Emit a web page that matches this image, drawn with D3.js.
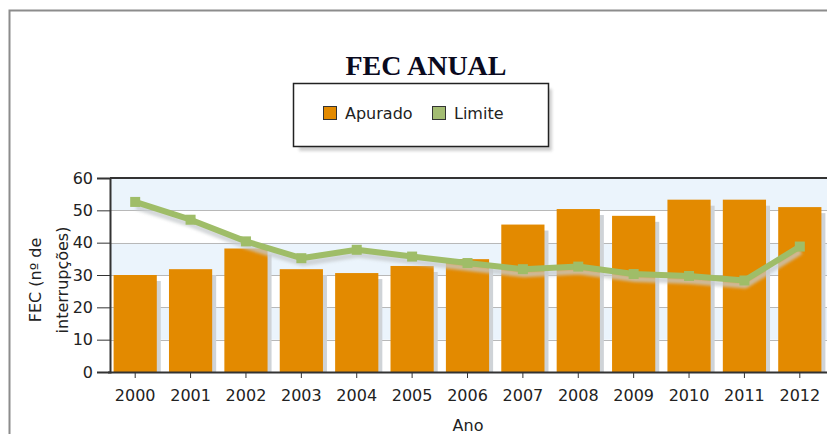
<!DOCTYPE html>
<html lang="pt">
<head>
  <meta charset="UTF-8">
  <title>FEC ANUAL</title>
  <script src="https://d3js.org/d3.v7.min.js"></script>
  <style>
    body { margin: 0; background: #fff; overflow: hidden; }
    svg { display: block; }
    .tick text { font-family: "DejaVu Sans", sans-serif; font-size: 16px; fill: #222; }
    .lbl { font-family: "DejaVu Sans", sans-serif; font-size: 16px; fill: #222; }
  </style>
</head>
<body>
  <svg id="chart" width="827" height="434"></svg>
  <script>
    // valores
    const anos = ["2000", "2001", "2002", "2003", "2004", "2005", "2006",
                  "2007", "2008", "2009", "2010", "2011", "2012"];
    const apurado = [30.0, 31.8, 38.2, 31.8, 30.6, 32.8, 34.9, 45.6, 50.4, 48.3, 53.3, 53.3, 51.0];
    const limite = [52.6, 47.1, 40.4, 35.2, 37.8, 35.7, 33.7, 31.8, 32.6, 30.3, 29.7, 28.3, 38.8];
    const yTicks = [0, 10, 20, 30, 40, 50, 60];

    const svg = d3.select("#chart");
    const plotLeft = 110, plotRight = 828, plotTop = 178, plotBottom = 372;

    const defs = svg.append("defs");
    defs.append("filter").attr("id", "blur")
      .append("feGaussianBlur").attr("stdDeviation", 1.5);

    // moldura externa
    svg.append("rect")
      .attr("x", 9.5).attr("y", 10.5)
      .attr("width", 840).attr("height", 440)
      .attr("fill", "none")
      .attr("stroke", "#8c8c8c")
      .attr("stroke-width", 2);

    // titulo
    svg.append("text")
      .attr("x", 426).attr("y", 75)
      .attr("text-anchor", "middle")
      .style("font-family", "'Liberation Serif', 'Times New Roman', serif")
      .style("font-weight", "bold")
      .style("font-size", "28px")
      .attr("fill", "#0a0a1e")
      .text("FEC ANUAL");

    // legenda
    const leg = svg.append("g");
    leg.append("rect")
      .attr("x", 299).attr("y", 89).attr("width", 253).attr("height", 62)
      .attr("fill", "#d0d0d0")
      .attr("filter", "url(#blur)");
    leg.append("rect")
      .attr("x", 293.5).attr("y", 83.5).attr("width", 255).attr("height", 63)
      .attr("fill", "#fff").attr("stroke", "#222").attr("stroke-width", 1.5);
    const legItems = [
      { name: "Apurado", color: "#e38a00", x: 323 },
      { name: "Limite", color: "#a3bc72", x: 432 }
    ];
    legItems.forEach(d => {
      leg.append("rect")
        .attr("x", d.x + 0.5).attr("y", 106.5).attr("width", 13).attr("height", 13)
        .attr("fill", d.color).attr("stroke", "#333").attr("stroke-width", 1);
      leg.append("text")
        .attr("class", "lbl")
        .attr("x", d.x + 22).attr("y", 119)
        .text(d.name);
    });

    const x = d3.scaleBand()
      .domain(anos)
      .range([107.5, 827.5])
      .paddingInner(0.22)
      .paddingOuter(0.11);

    const y = d3.scaleLinear()
      .domain([0, 60])
      .range([plotBottom, plotTop]);

    // faixas do fundo
    const faixas = d3.range(0, 60, 10);
    svg.append("g").selectAll("rect")
      .data(faixas)
      .enter().append("rect")
      .attr("x", plotLeft).attr("width", plotRight - plotLeft)
      .attr("y", d => y(d + 10))
      .attr("height", d => y(d) - y(d + 10))
      .attr("fill", (d, i) => i % 2 === 1 ? "#ebf4fc" : "#ffffff");

    // grelha
    svg.append("g").selectAll("line")
      .data(yTicks.slice(1, -1))
      .enter().append("line")
      .attr("x1", plotLeft).attr("x2", plotRight)
      .attr("y1", d => Math.round(y(d)) + 0.5)
      .attr("y2", d => Math.round(y(d)) + 0.5)
      .attr("stroke", "#b8b8b8");

    // sombra das barras
    svg.append("g").selectAll("rect")
      .data(apurado)
      .enter().append("rect")
      .attr("x", (d, i) => x(anos[i]) + 4)
      .attr("y", d => y(d) + 6)
      .attr("width", x.bandwidth())
      .attr("height", d => plotBottom - y(d) - 6)
      .attr("fill", "#cfd3d7");

    // barras
    svg.append("g").selectAll("rect")
      .data(apurado)
      .enter().append("rect")
      .attr("x", (d, i) => x(anos[i]))
      .attr("y", d => y(d))
      .attr("width", x.bandwidth())
      .attr("height", d => plotBottom - y(d))
      .attr("fill", "#e38a00");

    const cx = i => x(anos[i]) + x.bandwidth() / 2;
    const line = d3.line()
      .x((d, i) => cx(i))
      .y(d => y(d));

    // sombra da linha
    svg.append("path")
      .datum(limite)
      .attr("d", line)
      .attr("transform", "translate(1,5)")
      .attr("fill", "none")
      .attr("stroke", "#c6cacd")
      .attr("stroke-width", 6)
      .attr("stroke-linejoin", "round")
      .attr("filter", "url(#blur)")
      .attr("opacity", 0.75);

    svg.append("path")
      .datum(limite)
      .attr("d", line)
      .attr("fill", "none")
      .attr("stroke", "#9fbd68")
      .attr("stroke-width", 6)
      .attr("stroke-linejoin", "round");

    svg.append("g").selectAll("rect")
      .data(limite)
      .enter().append("rect")
      .attr("x", (d, i) => cx(i) - 5)
      .attr("y", d => y(d) - 5)
      .attr("width", 10).attr("height", 10)
      .attr("fill", "#9fbd68");

    // eixos
    const yAxis = svg.append("g")
      .attr("transform", `translate(${plotLeft},0)`)
      .call(d3.axisLeft(y).tickValues(yTicks).tickSize(13).tickPadding(4));
    yAxis.select(".domain").attr("stroke", "#333").attr("stroke-width", 2);
    yAxis.selectAll(".tick line").attr("stroke", "#333");

    const xAxis = svg.append("g")
      .attr("transform", `translate(0,${plotBottom})`)
      .call(d3.axisBottom(x).tickSize(6).tickPadding(12).tickSizeOuter(0));
    xAxis.select(".domain").attr("stroke", "#333").attr("stroke-width", 2);
    xAxis.selectAll(".tick line").attr("stroke", "#333");

    // linha superior da area
    svg.append("line")
      .attr("x1", plotLeft).attr("x2", plotRight)
      .attr("y1", plotTop).attr("y2", plotTop)
      .attr("stroke", "#333").attr("stroke-width", 2);

    // titulos dos eixos
    svg.append("text")
      .attr("class", "lbl")
      .attr("x", 468).attr("y", 431)
      .attr("text-anchor", "middle")
      .text("Ano");

    const yt = svg.append("text")
      .attr("class", "lbl")
      .attr("transform", "translate(41,280) rotate(-90)")
      .attr("text-anchor", "middle");
    yt.append("tspan").attr("x", 0).attr("y", 0).text("FEC (nº de");
    yt.append("tspan").attr("x", 0).attr("y", 27).text("interrupções)");
  </script>
</body>
</html>
